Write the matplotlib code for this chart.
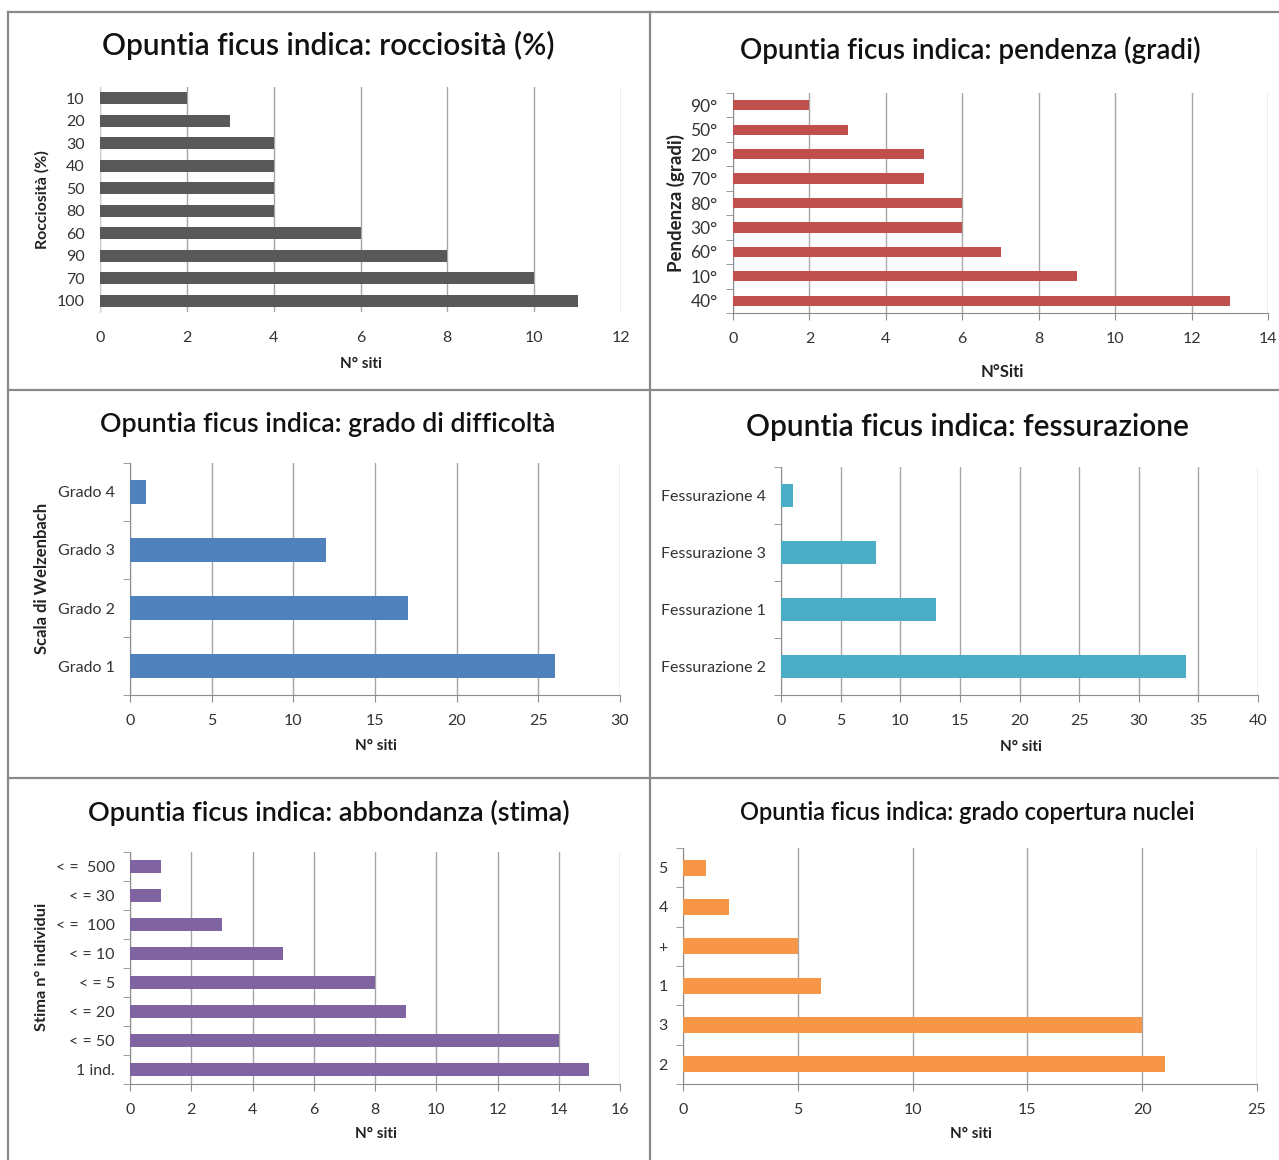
import matplotlib.pyplot as plt
import numpy as np
from matplotlib.lines import Line2D

plt.rcParams['font.family'] = ['Lato', 'DejaVu Sans']

W, H = 1279, 1160

# dati dei sei grafici (categorie dall'alto verso il basso)
roccia_cat = ['10', '20', '30', '40', '50', '80', '60', '90', '70', '100']
roccia_val = [2, 3, 4, 4, 4, 4, 6, 8, 10, 11]

pend_cat = ['90°', '50°', '20°', '70°', '80°', '30°', '60°', '10°', '40°']
pend_val = [2, 3, 5, 5, 6, 6, 7, 9, 13]

diff_cat = ['Grado 4', 'Grado 3', 'Grado 2', 'Grado 1']
diff_val = [1, 12, 17, 26]

fess_cat = ['Fessurazione 4', 'Fessurazione 3', 'Fessurazione 1', 'Fessurazione 2']
fess_val = [1, 8, 13, 34]

abb_cat = ['< =  500', '< = 30', '< =  100', '< = 10', '< = 5', '< = 20', '< = 50', '1 ind.']
abb_val = [1, 1, 3, 5, 8, 9, 14, 15]

cop_cat = ['5', '4', '+', '1', '3', '2']
cop_val = [1, 2, 5, 6, 20, 21]

fig = plt.figure(figsize=(W / 100, H / 100), dpi=100)
fig.patch.set_facecolor('white')


def px_axes(left, top, right, bottom):
    return fig.add_axes([left / W, 1 - bottom / H, (right - left) / W, (bottom - top) / H])


def pannello(box, cats, vals, xmax, step, color, bar_h, title, tsize,
             xlabel, xl_pos, xl_size=11, ylabel=None, yl_pos=None, yl_size=11.5,
             spine=True, ysize=11.5):
    ax = px_axes(*box)
    n = len(cats)
    y = np.arange(n)
    ax.barh(y, vals, height=bar_h, color=color, zorder=3)
    ax.set_ylim(n - 0.5, -0.5)
    ax.set_xlim(0, xmax)
    ax.set_xticks(np.arange(0, xmax + step, step))
    ax.set_yticks(y)
    ax.set_yticklabels(cats)
    ax.set_yticks(np.arange(n + 1) - 0.5, minor=True)
    ax.grid(axis='x', color='#a6a6a6', linewidth=1.0, zorder=0)
    for s in ['top', 'right']:
        ax.spines[s].set_visible(False)
    if spine:
        ax.spines['left'].set_color('#8c8c8c')
        ax.spines['bottom'].set_color('#8c8c8c')
        ax.tick_params(axis='y', which='minor', length=5, color='#8c8c8c', direction='out')
        ax.tick_params(axis='x', length=5, color='#8c8c8c', direction='out', pad=9)
    else:
        ax.spines['left'].set_color('#d0d0d0')
        ax.spines['bottom'].set_visible(False)
        ax.tick_params(axis='y', which='minor', length=0)
        ax.tick_params(axis='x', length=0, pad=14)
    ax.tick_params(axis='y', which='major', length=0, pad=11, labelsize=ysize, labelcolor='#333333')
    ax.tick_params(axis='x', labelsize=11.5, labelcolor='#333333')
    ax.set_facecolor('none')

    fig.text(title[1] / W, 1 - title[2] / H, title[0], ha='center', va='center',
             fontsize=tsize, fontweight='semibold', color='#111111')
    fig.text(xl_pos[0] / W, 1 - xl_pos[1] / H, xlabel, ha='center', va='center',
             fontsize=xl_size, fontweight='bold', color='#222222')
    if ylabel:
        fig.text(yl_pos[0] / W, 1 - yl_pos[1] / H, ylabel, ha='center', va='center',
                 rotation=90, fontsize=yl_size, fontweight='bold', color='#222222')
    return ax


pannello((100, 87, 621, 312), roccia_cat, roccia_val, 12, 2, '#595959', 0.55,
         ('Opuntia ficus indica: rocciosità (%)', 328, 45), 21.5,
         'N° siti', (361, 364), 11, 'Rocciosità (%)', (42, 200), 11.5, spine=False)

pannello((733, 93, 1268, 313), pend_cat, pend_val, 14, 2, '#c0504d', 0.42,
         ('Opuntia ficus indica: pendenza (gradi)', 970, 50), 20,
         'N°Siti', (1002, 372), 12, 'Pendenza (gradi)', (676, 203), 13.5, ysize=12.5)

pannello((130, 463, 620, 695), diff_cat, diff_val, 30, 5, '#4f81bd', 0.4,
         ('Opuntia ficus indica: grado di difficoltà', 328, 424), 19.3,
         'N° siti', (376, 746), 11, 'Scala di Welzenbach', (42, 578), 12)

pannello((781, 467, 1258, 695), fess_cat, fess_val, 40, 5, '#4bacc6', 0.4,
         ('Opuntia ficus indica: fessurazione', 967, 427), 21.5,
         'N° siti', (1021, 747), 11)

pannello((130, 852, 620, 1084), abb_cat, abb_val, 16, 2, '#8064a2', 0.42,
         ('Opuntia ficus indica: abbondanza (stima)', 329, 813), 19.5,
         'N° siti', (376, 1134), 11, 'Stima n° individui', (42, 967), 11.8)

pannello((683, 848, 1257, 1084), cop_cat, cop_val, 25, 5, '#f79646', 0.4,
         ('Opuntia ficus indica: grado copertura nuclei', 967, 812), 17,
         'N° siti', (971, 1134), 11)

# cornici dei pannelli
bordo = dict(color='#8a8a8a', linewidth=1.6)
segmenti = [
    ((8, 1279), (12, 12)),
    ((8, 1279), (390, 390)),
    ((8, 1279), (778, 778)),
    ((8, 8), (12, 1160)),
    ((650, 650), (12, 1160)),
]
for xs, ys in segmenti:
    fig.add_artist(Line2D([x / W for x in xs], [1 - y / H for y in ys], **bordo))

fig.savefig('out.png', dpi=100)
